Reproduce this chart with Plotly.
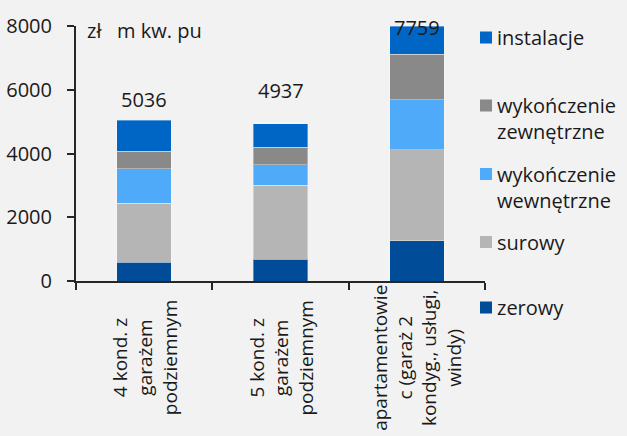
import plotly.graph_objects as go

# ---- data ----
categories = [
    "4 kond. z<br>garażem<br>podziemnym",
    "5 kond. z<br>garażem<br>podziemnym",
    "apartamentowie<br>c (garaż 2<br>kondyg., usługi,<br>windy)",
]
zerowy = [590, 685, 1270]
surowy = [1855, 2317, 2850]
wykonczenie_wewnetrzne = [1082, 650, 1570]
wykonczenie_zewnetrzne = [543, 544, 1420]
instalacje = [966, 741, 890]
totals = [5036, 4937, 7759]
unit_label = "zł\u00a0\u00a0 m kw. pu"

series_names = ["zerowy", "surowy", "wykończenie<br>wewnętrzne",
                "wykończenie<br>zewnętrzne", "instalacje"]
series_values = [zerowy, surowy, wykonczenie_wewnetrzne,
                 wykonczenie_zewnetrzne, instalacje]
y_ticks = [0, 2000, 4000, 6000, 8000]

# ---- styles ----
colors = ["#004C99", "#B5B5B5", "#4FAAF9", "#898989", "#0066C6"]
FONT = "Open Sans"
TXT = "#1A1A1A"
BG = "#F2F2F2"
W, H = 627, 436
L, R, T, B = 76, 142, 26, 155
total_shift = [21, 33, 6]
legend_sq_y = [307.5, 242, 174, 105.5, 37.5]  # pixel centres, same order as series

fig = go.Figure()
for name, vals, col in zip(series_names, series_values, colors):
    fig.add_trace(go.Bar(
        x=categories, y=vals, name=name.replace("<br>", " "),
        marker=dict(color=col, line=dict(color="rgba(255,255,255,0.35)", width=1)),
        width=0.4, showlegend=False, hoverinfo="skip",
    ))

def px_x(p):
    return (p - L) / (W - L - R)

def px_y(p):
    return (H - B - p) / (H - T - B)

annotations = []
# total labels
for c, tot, sh in zip(categories, totals, total_shift):
    annotations.append(dict(x=c, y=tot, xref="x", yref="y", text=str(tot),
                            showarrow=False, yanchor="middle", yshift=sh,
                            font=dict(family=FONT, size=20, color=TXT)))
# category labels (rotated, centred)
for c in categories:
    annotations.append(dict(x=c, y=px_y(358), xref="x", yref="paper", text=c,
                            showarrow=False, textangle=-90, align="center",
                            xanchor="center", yanchor="middle",
                            font=dict(family=FONT, size=19, color=TXT)))
# unit label
annotations.append(dict(x=px_x(85), y=px_y(30), xref="paper", yref="paper",
                        text=unit_label, showarrow=False, xanchor="left",
                        yanchor="middle", font=dict(family=FONT, size=20, color=TXT)))
# custom legend
shapes = []
for name, col, cy in zip(series_names, colors, legend_sq_y):
    shapes.append(dict(type="rect", xref="paper", yref="paper",
                       x0=px_x(480), x1=px_x(492), y0=px_y(cy + 6), y1=px_y(cy - 6),
                       fillcolor=col, line=dict(width=0)))
    nlines = name.count("<br>") + 1
    annotations.append(dict(x=px_x(495), y=px_y(cy + 13 * (nlines - 1)),
                            xref="paper", yref="paper", text=name, showarrow=False,
                            xanchor="left", yanchor="middle", align="left",
                            font=dict(family=FONT, size=20, color=TXT)))

fig.update_layout(
    barmode="stack",
    width=W, height=H,
    margin=dict(l=L, r=R, t=T, b=B, autoexpand=False),
    paper_bgcolor=BG, plot_bgcolor=BG,
    font=dict(family=FONT, size=20, color=TXT),
    annotations=annotations, shapes=shapes,
    showlegend=False,
)
fig.update_xaxes(type="category", showticklabels=False, tickson="boundaries",
                 ticks="outside", ticklen=7, tickwidth=2, tickcolor="#262626",
                 showline=True, linecolor="#262626", linewidth=2, showgrid=False,
                 zeroline=False, automargin=False)
fig.update_yaxes(range=[0, 8000], tickvals=y_ticks, ticks="outside", ticklen=7,
                 tickwidth=2, tickcolor="#262626", showline=True,
                 linecolor="#262626", linewidth=2, showgrid=False, zeroline=False,
                 automargin=False,
                 ticklabelstandoff=11, tickfont=dict(family=FONT, size=20, color=TXT))

fig.write_html("out.html", config={"displayModeBar": False},
               post_script="document.body.style.margin='0';"
                           "document.body.style.overflow='hidden';")
